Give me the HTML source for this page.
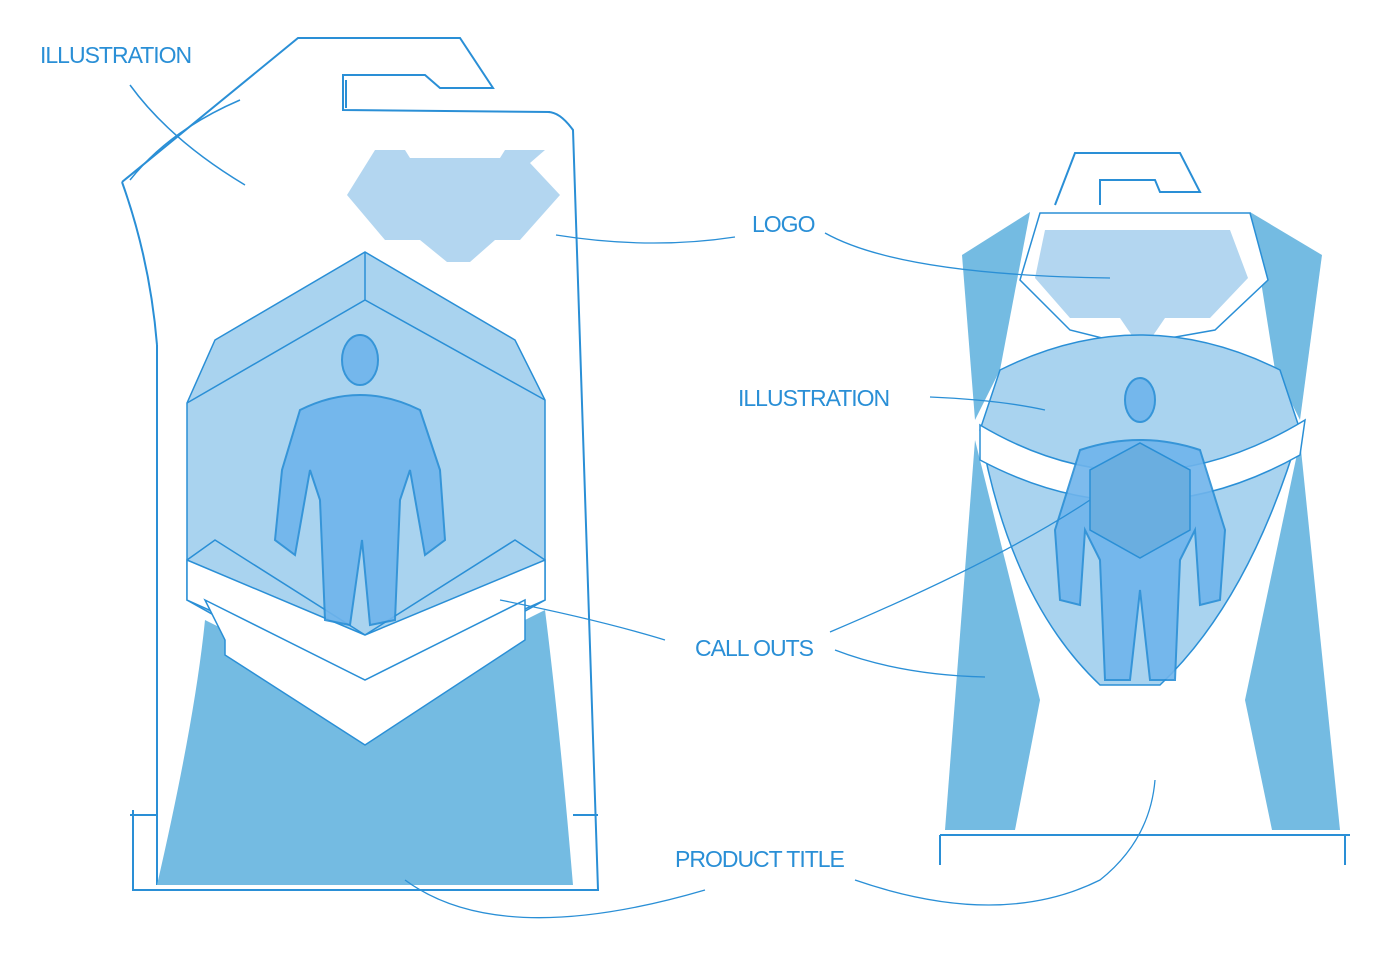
<!DOCTYPE html>
<html><head><meta charset="utf-8"><style>
html,body{margin:0;padding:0;background:#fff}
svg{display:block}
text{font-family:"Liberation Sans",sans-serif;fill:#2a8fd6;font-size:23px;letter-spacing:-1px}
</style></head><body>
<svg width="1387" height="958" viewBox="0 0 1387 958" xmlns="http://www.w3.org/2000/svg">
<g fill="none" stroke="#2a8fd6" stroke-width="2">
<path d="M122,182 L298,38 L460,38 L493,88 L440,88 L425,75 L343,75 L343,110 L550,112"/>
<path d="M346,80 L346,108 M122,182 Q150,260 157,345 M133,810 L133,890 L598,890 L573,130 Q560,112 548,112"/>
<path d="M157,345 L157,885 M130,815 L157,815 M573,815 L598,815"/>
<path d="M130,85 Q170,140 245,185 M240,100 Q170,130 130,180" stroke-width="1.5"/>
</g>
<path d="M205,620 Q195,720 157,885 L573,885 Q560,730 545,610 L365,700 Z" fill="#74bbe2"/>
<path d="M187,403 L215,340 L365,252 L515,340 L545,400 L545,600 L365,700 L187,600 Z" fill="#a9d3ef" stroke="#2a8fd6" stroke-width="1.5"/>
<path d="M187,403 L365,300 L545,400 M365,252 L365,300 M187,560 L215,540 L365,635 L515,540 L545,560" fill="none" stroke="#2a8fd6" stroke-width="1.5"/>
<path d="M187,560 L365,635 L545,560 L545,600 L365,680 L187,600 Z" fill="#fff" stroke="#2a8fd6" stroke-width="1.5"/>
<path d="M205,600 L365,680 L525,600 L525,640 L365,745 L225,655 L225,640 Z" fill="#fff" stroke="#2a8fd6" stroke-width="1.5"/>
<g fill="#6fb4ec" stroke="#2a8fd6" stroke-width="2" opacity="0.9">
<ellipse cx="360" cy="360" rx="18" ry="25"/>
<path d="M300,410 Q360,380 420,410 L440,470 L445,540 L425,555 L410,470 L400,500 L395,620 L370,625 L362,540 L350,625 L325,620 L320,500 L310,470 L295,555 L275,540 L282,470 Z"/>
</g>
<path d="M347,195 L375,150 L360,150 L405,150 L410,158 L500,158 L505,150 L545,150 L530,163 L560,195 L520,240 L495,240 L470,262 L447,262 L420,240 L385,240 Z" fill="#b3d6f0"/>
<g fill="none" stroke="#2a8fd6" stroke-width="2">
<path d="M1055,205 L1075,153 L1180,153 L1200,192 L1160,192 L1155,180 L1100,180 L1100,205"/>
<path d="M940,835 L1350,835 M940,835 L940,865 M1345,835 L1345,865"/>
</g>
<path d="M962,255 L1030,212 L1000,370 L975,420 Z" fill="#74bbe2"/>
<path d="M1250,212 L1322,255 L1300,420 L1275,370 Z" fill="#74bbe2"/>
<path d="M975,440 L945,830 L1015,830 L1040,700 Z" fill="#74bbe2"/>
<path d="M1300,440 L1340,830 L1272,830 L1245,700 Z" fill="#74bbe2"/>
<path d="M1040,213 L1250,213 L1268,280 L1215,330 L1130,345 L1070,330 L1020,280 Z" fill="#fff" stroke="#2a8fd6" stroke-width="1.5"/>
<path d="M1045,230 L1230,230 L1248,278 L1210,318 L1165,318 L1150,340 L1135,340 L1120,318 L1070,318 L1035,278 Z" fill="#b3d6f0"/>
<path d="M1000,370 Q1140,300 1280,370 L1300,430 Q1250,600 1160,685 L1100,685 Q1010,600 980,430 Z" fill="#a9d3ef" stroke="#2a8fd6" stroke-width="1.5"/>
<path d="M980,425 Q1140,520 1305,420 L1300,455 Q1140,545 980,460 Z" fill="#fff" stroke="#2a8fd6" stroke-width="1.5"/>
<g fill="#6fb4ec" stroke="#2a8fd6" stroke-width="2" opacity="0.9">
<ellipse cx="1140" cy="400" rx="15" ry="22"/>
<path d="M1080,450 Q1140,430 1200,450 L1225,530 L1220,600 L1200,605 L1195,530 L1180,560 L1175,680 L1150,680 L1140,590 L1130,680 L1105,680 L1100,560 L1085,530 L1080,605 L1060,600 L1055,530 Z"/>
</g>
<path d="M1140,443 L1190,470 L1190,530 L1140,558 L1090,530 L1090,470 Z" fill="#6aaee0" stroke="#2a8fd6" stroke-width="1.5"/>
<g fill="none" stroke="#2a8fd6" stroke-width="1.3">
<path d="M556,235 Q650,250 735,237"/>
<path d="M825,233 Q900,275 1110,278"/>
<path d="M930,397 Q1000,400 1045,410"/>
<path d="M500,600 Q600,620 665,640"/>
<path d="M830,632 Q1000,560 1090,500"/>
<path d="M835,650 Q900,675 985,677"/>
<path d="M405,880 Q500,950 705,890"/>
<path d="M855,880 Q1000,930 1100,880 Q1150,840 1155,780"/>
</g>
<text x="40" y="63">ILLUSTRATION</text>
<text x="752" y="232">LOGO</text>
<text x="738" y="406">ILLUSTRATION</text>
<text x="695" y="656">CALL OUTS</text>
<text x="675" y="867">PRODUCT TITLE</text>
</svg>
</body></html>
